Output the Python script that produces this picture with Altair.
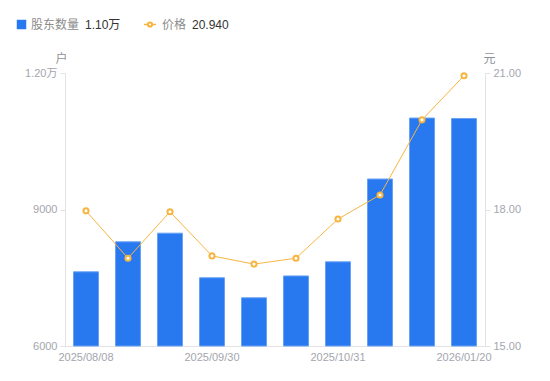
import altair as alt
import pandas as pd

dates = ["2025/08/08", "2025/08/20", "2025/08/31", "2025/09/30", "2025/10/10",
         "2025/10/20", "2025/10/31", "2025/11/30", "2025/12/31", "2026/01/20"]
holders = [7630, 8290, 8480, 7500, 7060, 7540, 7850, 9670, 11010, 11000]
prices = [17.97, 16.93, 17.95, 16.98, 16.80, 16.93, 17.79, 18.32, 19.97, 20.94]
shown_dates = ["2025/08/08", "2025/09/30", "2025/10/31", "2026/01/20"]

FONT = "Liberation Sans, Noto Sans CJK SC, sans-serif"
BLUE = "#2878F0"
ORANGE = "#F7B540"
AXIS_GRAY = "#E3E3E3"
LABEL_GRAY = "#A3A6AE"

df = pd.DataFrame({"date": dates, "holders": holders, "price": prices})

xenc = alt.X("date:N", sort=None, scale=alt.Scale(paddingInner=0, paddingOuter=0),
             axis=alt.Axis(values=shown_dates, title=None, ticks=False, labelAngle=0,
                           labelColor=LABEL_GRAY, labelFontSize=11, labelFont=FONT,
                           domainColor=AXIS_GRAY, labelPadding=5))

bars = alt.Chart(df).mark_bar(size=25, color=BLUE, stroke="#6AA3F5", strokeWidth=1).encode(
    x=xenc,
    y=alt.Y("holders:Q", scale=alt.Scale(domain=[6000, 12000], nice=False, zero=False, clamp=True),
            axis=alt.Axis(values=[6000, 9000, 12000], grid=False, title="户",
                          titleAngle=0, titleX=-4, titleY=-8, titleColor="#8E9199",
                          titleFontWeight="normal", titleFontSize=12, titleFont=FONT,
                          labelExpr="datum.value >= 10000 ? format(datum.value/10000, '.2f') + '万' : format(datum.value, 'd')",
                          labelColor=LABEL_GRAY, labelFontSize=11, labelFont=FONT,
                          domainColor=AXIS_GRAY, tickColor=AXIS_GRAY, tickSize=5, labelPadding=3)),
)

yprice = alt.Y("price:Q", scale=alt.Scale(domain=[15, 21], nice=False, zero=False),
               axis=alt.Axis(orient="right", values=[15, 18, 21], format=".2f", grid=False,
                             title="元", titleAngle=0, titleX=4, titleY=-8, titleColor="#8E9199",
                             titleFontWeight="normal", titleFontSize=12, titleFont=FONT,
                             labelColor=LABEL_GRAY, labelFontSize=11, labelFont=FONT,
                             domainColor=AXIS_GRAY, tickColor=AXIS_GRAY, tickSize=5, labelPadding=3))

line = alt.Chart(df).mark_line(color=ORANGE, strokeWidth=1).encode(x="date:N", y=yprice)
pts = alt.Chart(df).mark_point(shape="circle", filled=True, fill="white", stroke=ORANGE,
                               strokeWidth=2, size=26, opacity=1).encode(
    x="date:N", y="price:Q")

price_layer = alt.layer(line, pts)

one = pd.DataFrame({"a": [0]})
leg_y = -48.5
legend = [
    alt.Chart(one).mark_square(size=90, color=BLUE, opacity=1).encode(
        x=alt.value(-43.5), y=alt.value(leg_y)),
    alt.Chart(one).mark_text(align="left", baseline="middle", font=FONT, fontSize=12,
                             color="#8C8C8C").encode(
        x=alt.value(-34), y=alt.value(leg_y), text=alt.value("股东数量")),
    alt.Chart(one).mark_text(align="left", baseline="middle", font=FONT, fontSize=12,
                             color="#333333").encode(
        x=alt.value(20), y=alt.value(leg_y),
        text=alt.value(f"{holders[-1]/10000:.2f}万")),
    alt.Chart(one).mark_rule(color=ORANGE, strokeWidth=1.5).encode(
        x=alt.value(79), x2=alt.value(91), y=alt.value(leg_y)),
    alt.Chart(one).mark_point(shape="circle", filled=True, fill="white", stroke=ORANGE,
                              strokeWidth=2, size=18, opacity=1).encode(
        x=alt.value(85), y=alt.value(leg_y)),
    alt.Chart(one).mark_text(align="left", baseline="middle", font=FONT, fontSize=12,
                             color="#8C8C8C").encode(
        x=alt.value(97), y=alt.value(leg_y), text=alt.value("价格")),
    alt.Chart(one).mark_text(align="left", baseline="middle", font=FONT, fontSize=12,
                             color="#333333").encode(
        x=alt.value(127), y=alt.value(leg_y), text=alt.value(f"{prices[-1]:.3f}")),
]

chart = alt.layer(bars, price_layer, *legend).resolve_scale(y="independent").properties(
    width=420, height=273,
    background="white",
    autosize=alt.AutoSizeParams(type="none"),
    padding={"left": 57, "top": 65, "right": 57, "bottom": 27},
).configure_view(stroke=None)

chart.save("out.html", embed_options={"renderer": "svg", "actions": False})
